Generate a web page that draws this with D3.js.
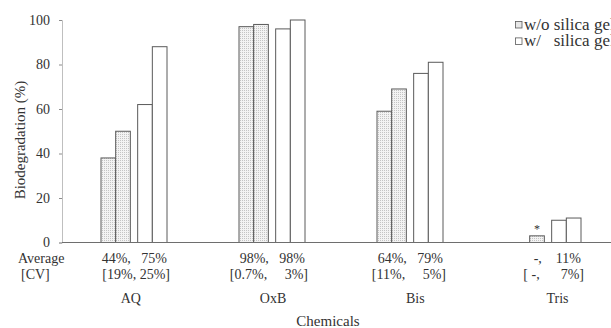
<!DOCTYPE html>
<html>
<head>
<meta charset="utf-8">
<script src="https://cdn.jsdelivr.net/npm/d3@7"></script>
<style>
  body { margin: 0; background: #fff; overflow: hidden; }
  svg text { white-space: pre; }
</style>
</head>
<body>
<div id="chart"></div>
<script>
(function () {
    // chart values
    var categories = ["AQ", "OxB", "Bis", "Tris"];
    var withoutGel1 = [38, 97, 59, null];
    var withoutGel2 = [50, 98, 69, 3];
    var withGel1 = [62, 96, 76, 10];
    var withGel2 = [88, 100, 81, 11];
    var averageLabels = ["44%,   75%", "98%,   98%", "64%,   79%", "-,    11%"];
    var cvLabels = ["[19%, 25%]", "[0.7%,     3%]", "[11%,     5%]", "[ -,      7%]"];
    var yTicks = [0, 20, 40, 60, 80, 100];
    var legendLabels = ["w/o silica gel", "w/   silica gel"];

    var width = 611, height = 328;
    var serif = "'Liberation Serif'";
    var ink = "#333";

    var svg = d3.select("#chart").append("svg")
        .attr("width", width).attr("height", height);

    // dotted fill for the bars without silica gel
    var defs = svg.append("defs");
    var pat = defs.append("pattern").attr("id", "dots")
        .attr("patternUnits", "userSpaceOnUse").attr("width", 2).attr("height", 2);
    pat.append("rect").attr("width", 2).attr("height", 2).attr("fill", "#f3f3f3");
    pat.append("rect").attr("width", 1).attr("height", 1).attr("fill", "#c4c4c4");

    var x = d3.scaleBand().domain(categories).range([62, 614]);
    var cond = d3.scaleBand().domain(["wo", "w"]).range([39, 105]).paddingInner(0.2);
    var rep = d3.scaleBand().domain([0, 1]).range([0, cond.bandwidth()]);
    var y = d3.scaleLinear().domain([0, 100]).range([242.5, 20]);
    var labelX = d3.scalePoint().domain(categories).range([130.8, 557.5]);

    function label(sel, size) {
        return sel.style("font-family", serif)
            .style("font-size", size + "px").attr("fill", ink);
    }

    // y axis
    var yAxis = svg.append("g")
        .attr("transform", "translate(62,0)")
        .call(d3.axisLeft(y).tickValues(yTicks).tickSize(3).tickPadding(9));
    yAxis.attr("font-family", null).attr("font-size", null);
    yAxis.select(".domain").attr("stroke", "#bfbfbf");
    yAxis.selectAll(".tick line").attr("stroke", "#8c8c8c");
    label(yAxis.selectAll(".tick text"), 14);

    // bars
    var series = [
        { key: "wo", r: 0, vals: withoutGel1 },
        { key: "wo", r: 1, vals: withoutGel2 },
        { key: "w", r: 0, vals: withGel1 },
        { key: "w", r: 1, vals: withGel2 }
    ];
    var bars = [];
    series.forEach(function (s) {
        categories.forEach(function (c, i) {
            if (s.vals[i] != null) bars.push({ cat: c, key: s.key, r: s.r, v: s.vals[i] });
        });
    });
    svg.append("g").selectAll("rect")
        .data(bars)
        .join("rect")
        .attr("x", function (d) { return x(d.cat) + cond(d.key) + rep(d.r); })
        .attr("y", function (d) { return y(d.v); })
        .attr("width", rep.bandwidth())
        .attr("height", function (d) { return y(0) - y(d.v); })
        .attr("fill", function (d) { return d.key === "wo" ? "url(#dots)" : "#fff"; })
        .attr("stroke", "#5a5a5a")
        .attr("stroke-width", 1);

    // asterisk over the single Tris bar
    label(svg.append("text"), 12)
        .attr("x", x("Tris") + cond("wo") + rep(1) + rep.bandwidth() / 2)
        .attr("y", y(withoutGel2[3]) - 3)
        .attr("text-anchor", "middle")
        .text("*");

    // x axis line
    svg.append("line")
        .attr("x1", x.range()[0]).attr("x2", width)
        .attr("y1", y(0)).attr("y2", y(0))
        .attr("stroke", "#6e6e6e").attr("stroke-width", 1);

    // table rows below the axis
    var rightEdge = function (c) { return x(c) + cond("w") + cond.bandwidth(); };
    label(svg.append("g").selectAll("text").data(categories).join("text"), 14)
        .attr("x", function (c) { return rightEdge(c); })
        .attr("y", 262.5)
        .attr("text-anchor", "end")
        .text(function (c, i) { return averageLabels[i]; });
    label(svg.append("g").selectAll("text").data(categories).join("text"), 14)
        .attr("x", function (c) { return rightEdge(c) + 3; })
        .attr("y", 279)
        .attr("text-anchor", "end")
        .text(function (c, i) { return cvLabels[i]; });
    label(svg.append("text"), 14).attr("x", 18).attr("y", 262.5).text("Average");
    label(svg.append("text"), 14).attr("x", 21).attr("y", 279).text("[CV]");

    label(svg.append("g").selectAll("text").data(categories).join("text"), 14)
        .attr("x", function (c) { return labelX(c); })
        .attr("y", 302.5)
        .attr("text-anchor", "middle")
        .text(function (c) { return c; });

    // axis titles
    label(svg.append("text"), 15)
        .attr("x", 328).attr("y", 326)
        .attr("text-anchor", "middle")
        .text("Chemicals");
    label(svg.append("text"), 15)
        .attr("transform", "translate(25,140) rotate(-90)")
        .attr("text-anchor", "middle")
        .text("Biodegradation (%)");

    // legend
    var legend = svg.append("g").attr("transform", "translate(515.5,21.5)");
    legendLabels.forEach(function (lab, i) {
        var g = legend.append("g").attr("transform", "translate(0," + (i * 16.4) + ")");
        g.append("rect").attr("width", 6.5).attr("height", 6.5)
            .attr("fill", i === 0 ? "url(#dots)" : "#fff")
            .attr("stroke", "#5a5a5a").attr("stroke-width", 0.8);
        label(g.append("text"), 17).attr("x", 8.5).attr("y", 8).text(lab);
    });
})();
</script>
</body>
</html>
